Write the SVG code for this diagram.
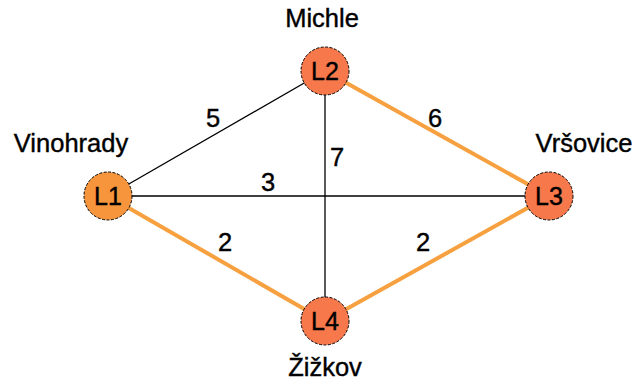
<svg xmlns="http://www.w3.org/2000/svg" width="635" height="385" viewBox="0 0 635 385">
<style>
text{font-family:"Liberation Sans",Arial,sans-serif;fill:#000;stroke:#000;stroke-width:0.4}
.lbl{font-size:25.5px;text-anchor:middle}
.nl{font-size:25px;text-anchor:middle}
.thin{stroke:#000;stroke-width:1.3;fill:none}
.hot{stroke:#F7A040;stroke-width:4;fill:none}
.node{stroke:#000;stroke-width:1;stroke-dasharray:3 1.5}
</style>
<rect width="635" height="385" fill="#fff"/>
<g id="connectors">
<line class="thin" x1="108" y1="196" x2="325" y2="71"/>
<line class="thin" x1="108" y1="196" x2="549" y2="196"/>
<line class="thin" x1="325" y1="71" x2="325" y2="321"/>
<line class="hot" x1="325" y1="71" x2="549" y2="196"/>
<line class="hot" x1="108" y1="196" x2="325" y2="321"/>
<line class="hot" x1="549" y1="196" x2="325" y2="321"/>
<text class="lbl" x="213" y="127">5</text>
<text class="lbl" x="435" y="127">6</text>
<text class="lbl" x="337" y="166">7</text>
<text class="lbl" x="268" y="191">3</text>
<text class="lbl" x="225" y="251">2</text>
<text class="lbl" x="423" y="251">2</text>
</g>
<g id="L1">
<circle class="node" cx="108" cy="196" r="24" fill="#F7953C"/>
<text class="nl" x="108" y="205">L1</text>
<text class="lbl" x="71" y="152">Vinohrady</text>
</g>
<g id="L2">
<circle class="node" cx="325" cy="71" r="24" fill="#F7784A"/>
<text class="nl" x="325" y="80">L2</text>
<text class="lbl" x="322" y="27">Michle</text>
</g>
<g id="L3">
<circle class="node" cx="549" cy="196" r="24" fill="#F7784A"/>
<text class="nl" x="549" y="205">L3</text>
<text class="lbl" x="584" y="152">Vršovice</text>
</g>
<g id="L4">
<circle class="node" cx="325" cy="321" r="24" fill="#F7784A"/>
<text class="nl" x="325" y="330">L4</text>
<text class="lbl" x="325" y="376">Žižkov</text>
</g>
</svg>
